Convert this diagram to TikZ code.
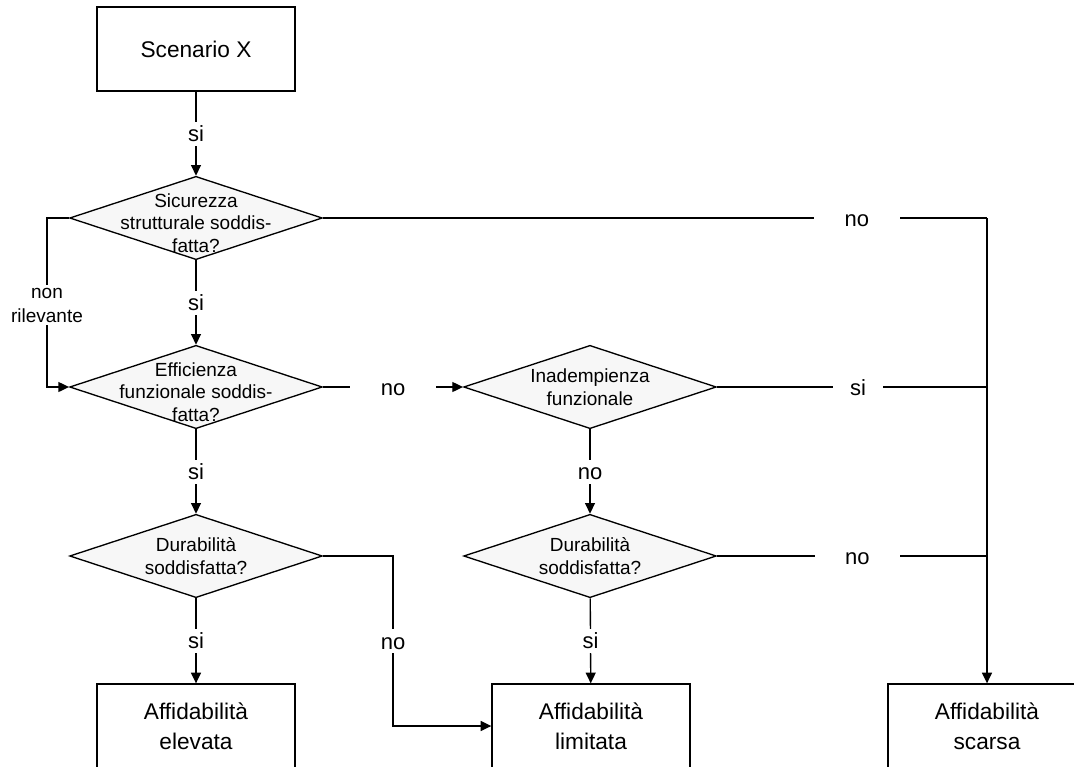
\documentclass[tikz,border=0pt]{standalone}
\usepackage{fontspec}
\setmainfont{Liberation Sans}
\usetikzlibrary{shapes.geometric,arrows.meta}

\begin{document}
\begin{tikzpicture}[x=0.75pt,y=-0.75pt,
  line width=1pt,
  box/.style={draw, rectangle, minimum width=148.5pt, minimum height=63pt,
    inner sep=0pt, align=center, font=\fontsize{17}{22.5}\selectfont},
  decision/.style={draw, diamond, fill=black!3, minimum width=189.5pt,
    minimum height=62.5pt, inner sep=0pt},
  dtext/.style={align=center, inner sep=0pt, font=\fontsize{14.25}{17}\selectfont},
  lbl/.style={fill=white, inner xsep=4pt, inner ysep=3pt, text height=12pt,
    text depth=0pt, font=\fontsize{16.5}{20}\selectfont},
  sidelbl/.style={fill=white, align=center, inner xsep=1pt, inner ysep=2pt,
    font=\fontsize{14.25}{18}\selectfont},
  arr/.style={-{Triangle[length=8pt,width=7.5pt]}}
]
\useasboundingbox (0,0) rectangle (1074,767);
\clip (0,0) rectangle (1074,767);

% boxes
\node[box] (scen) at (196,49) {Scenario X};
\node[box] (elev) at (196,726) {Affidabilità\\elevata};
\node[box] (lim) at (591,726) {Affidabilità\\limitata};
\node[box] (scar) at (987,726) {Affidabilità\\scarsa};

% decisions
\node[decision, label={[dtext, yshift=-3.75pt]center:Sicurezza\\strutturale soddis-\\fatta?}] (d1) at (196,218) {};
\node[decision, label={[dtext, yshift=-3.75pt]center:Efficienza\\funzionale soddis-\\fatta?}] (d2) at (196,387) {};
\node[decision, label={[dtext]center:Inadempienza\\funzionale}] (d3) at (590,387) {};
\node[decision, label={[dtext]center:Durabilità\\soddisfatta?}] (d4) at (196,556) {};
\node[decision, label={[dtext]center:Durabilità\\soddisfatta?}] (d5) at (590,556) {};

% bend points
\coordinate (j1) at (987,218);
\coordinate (nr1) at (47,218);
\coordinate (nr2) at (47,387);
\coordinate (k1) at (393,556);
\coordinate (k2) at (393,726);

% connectors
\draw[arr] (scen) -- node[lbl]{si} (d1);
\draw (d1.east) -- node[lbl, pos=0.804, inner xsep=23pt]{no} (j1);
\draw[arr] (j1) -- (scar);
\draw[arr] (d1) -- node[lbl]{si} (d2);
\draw[arr] (d1.west) -- (nr1) -- node[sidelbl, pos=0.515]{non\\rilevante} (nr2) -- (d2.west);
\draw[arr] (d2) -- node[lbl, inner xsep=23pt]{no} (d3);
\draw (d3.east) -- node[lbl, pos=0.522, inner xsep=13pt]{si} (d3.east -| j1);
\draw[arr] (d2) -- node[lbl]{si} (d4);
\draw[arr] (d3) -- node[lbl]{no} (d5);
\draw (d5.east) -- node[lbl, pos=0.52, inner xsep=23pt]{no} (d5.east -| j1);
\draw[arr] (d4) -- node[lbl]{si} (elev);
\draw[arr] (d4.east) -- (k1) -- node[lbl]{no} (k2) -- (lim.west);
\draw[arr] (d5) -- node[lbl]{si} (lim);
\end{tikzpicture}
\end{document}
